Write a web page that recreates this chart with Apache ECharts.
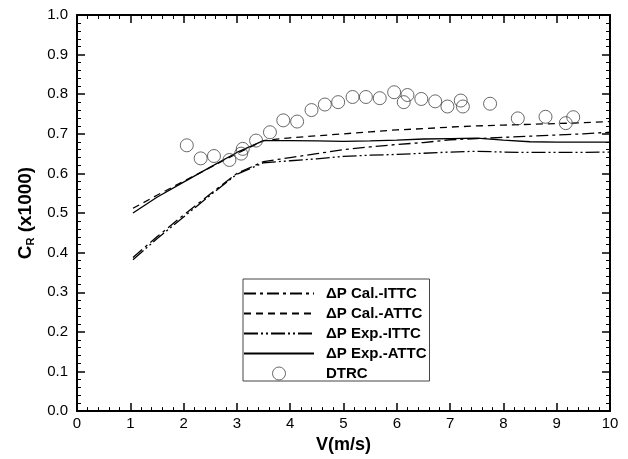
<!DOCTYPE html>
<html>
<head>
<meta charset="utf-8">
<script src="https://cdn.jsdelivr.net/npm/echarts@6/dist/echarts.min.js"></script>
<style>html,body{margin:0;padding:0;background:#fff}#c{width:628px;height:459px}</style>
</head>
<body>
<div id="c"></div>
<script>
var vLine = [1.05, 1.5, 2, 2.5, 3, 3.5, 4, 4.5, 5, 5.5, 6, 6.5, 7, 7.5, 8, 8.5, 9, 9.5, 10];
var calITTC = [0.388, 0.440, 0.495, 0.548, 0.600, 0.630, 0.640, 0.650, 0.660, 0.667, 0.673, 0.678, 0.685, 0.688, 0.691, 0.694, 0.697, 0.700, 0.704];
var calATTC = [0.512, 0.545, 0.580, 0.615, 0.650, 0.683, 0.690, 0.695, 0.700, 0.705, 0.710, 0.713, 0.717, 0.720, 0.722, 0.724, 0.726, 0.728, 0.731];
var expITTC = [0.382, 0.435, 0.490, 0.545, 0.598, 0.627, 0.632, 0.637, 0.643, 0.646, 0.648, 0.651, 0.654, 0.656, 0.654, 0.653, 0.653, 0.653, 0.654];
var expATTC = [0.500, 0.540, 0.578, 0.616, 0.653, 0.683, 0.683, 0.682, 0.681, 0.682, 0.684, 0.687, 0.688, 0.689, 0.684, 0.680, 0.679, 0.679, 0.679];
var dtrcV = [2.06, 2.32, 2.57, 2.86, 3.08, 3.11, 3.36, 3.62, 3.87, 4.13, 4.40, 4.65, 4.90, 5.17, 5.42, 5.68, 5.95, 6.13, 6.20, 6.46, 6.72, 6.95, 7.20, 7.24, 7.75, 8.27, 8.79, 9.17, 9.31];
var dtrcC = [0.671, 0.638, 0.644, 0.634, 0.650, 0.662, 0.683, 0.704, 0.734, 0.731, 0.760, 0.774, 0.780, 0.793, 0.793, 0.790, 0.805, 0.780, 0.798, 0.788, 0.782, 0.769, 0.784, 0.769, 0.776, 0.739, 0.743, 0.727, 0.742];
var names = ['\u0394P Cal.-ITTC', '\u0394P Cal.-ATTC', '\u0394P Exp.-ITTC', '\u0394P Exp.-ATTC', 'DTRC'];

function pairs(xs, ys) { return xs.map(function (x, i) { return [x, ys[i]]; }); }
var FONT = 'Liberation Sans, Arial, sans-serif';
var axisCommon = {
  type: 'value',
  axisLine: { show: true, onZero: false, lineStyle: { color: '#000', width: 2 } },
  axisTick: { show: true, inside: true, length: 8, lineStyle: { color: '#000', width: 1.5 } },
  minorTick: { show: true, splitNumber: 5, length: 4, lineStyle: { color: '#000', width: 1 } },
  splitLine: { show: false }
};
function ax(extra) { return Object.assign({}, JSON.parse(JSON.stringify(axisCommon)), extra); }
function lineSeries(name, data, dash) {
  return {
    name: name, type: 'line', data: data, symbol: 'none', smooth: false,
    lineStyle: { color: '#000', width: 1.3, type: dash },
    itemStyle: { color: '#000' }, z: 3
  };
}
var legendData = names.map(function (n, i) {
  if (i < 4) return { name: n, itemStyle: { color: 'rgba(0,0,0,0)', borderWidth: 0, opacity: 0 } };
  return { name: n, itemStyle: { color: 'rgba(0,0,0,0)', borderColor: '#444', borderWidth: 1 } };
});
var chart = echarts.init(document.getElementById('c'));
chart.setOption({
  animation: false,
  backgroundColor: '#fff',
  grid: { left: 77, right: 18, top: 15, bottom: 39 },
  xAxis: [
    ax({ min: 0, max: 10, interval: 1, position: 'bottom', name: 'V(m/s)', nameLocation: 'middle', nameGap: 19,
      nameTextStyle: { fontFamily: FONT, fontSize: 18, fontWeight: 'bold', color: '#000' },
      axisLabel: { fontFamily: FONT, fontSize: 15, color: '#000', margin: 5 } }),
    ax({ min: 0, max: 10, interval: 1, position: 'top', axisLabel: { show: false } })
  ],
  yAxis: [
    ax({ min: 0, max: 1, interval: 0.1, position: 'left',
      name: '{b|C}{s|R}{b| (x1000)}', nameLocation: 'middle', nameGap: 37, nameRotate: 90,
      nameTextStyle: { rich: {
        b: { fontFamily: FONT, fontSize: 19, fontWeight: 'bold', color: '#000' },
        s: { fontFamily: FONT, fontSize: 11, fontWeight: 'bold', color: '#000', verticalAlign: 'bottom', padding: [9, 0, 0, 0] }
      } },
      axisLabel: { fontFamily: FONT, fontSize: 15, color: '#000', margin: 9,
        formatter: function (v) { return v.toFixed(1); } } }),
    ax({ min: 0, max: 1, interval: 0.1, position: 'right', axisLabel: { show: false } })
  ],
  legend: {
    orient: 'vertical', left: 243, top: 279,
    itemWidth: 70, itemHeight: 13, itemGap: 5,
    padding: [7, 3, 0, 0],
    borderColor: '#444', borderWidth: 1, backgroundColor: '#fff',
    textStyle: { fontFamily: FONT, fontSize: 15, fontWeight: 'bold', color: '#000', padding: [0, 0, 0, 7], lineHeight: 13 },
    data: legendData
  },
  series: [
    lineSeries(names[0], pairs(vLine, calITTC), [12, 4, 3, 4]),
    lineSeries(names[1], pairs(vLine, calATTC), [7, 5]),
    lineSeries(names[2], pairs(vLine, expITTC), [14, 3, 2, 3, 2, 3]),
    lineSeries(names[3], pairs(vLine, expATTC), 'solid'),
    {
      name: names[4], type: 'scatter', data: pairs(dtrcV, dtrcC),
      symbol: 'circle', symbolSize: 13,
      itemStyle: { color: 'rgba(0,0,0,0)', borderColor: '#444', borderWidth: 1 }, z: 4
    }
  ]
});
</script>
</body>
</html>
